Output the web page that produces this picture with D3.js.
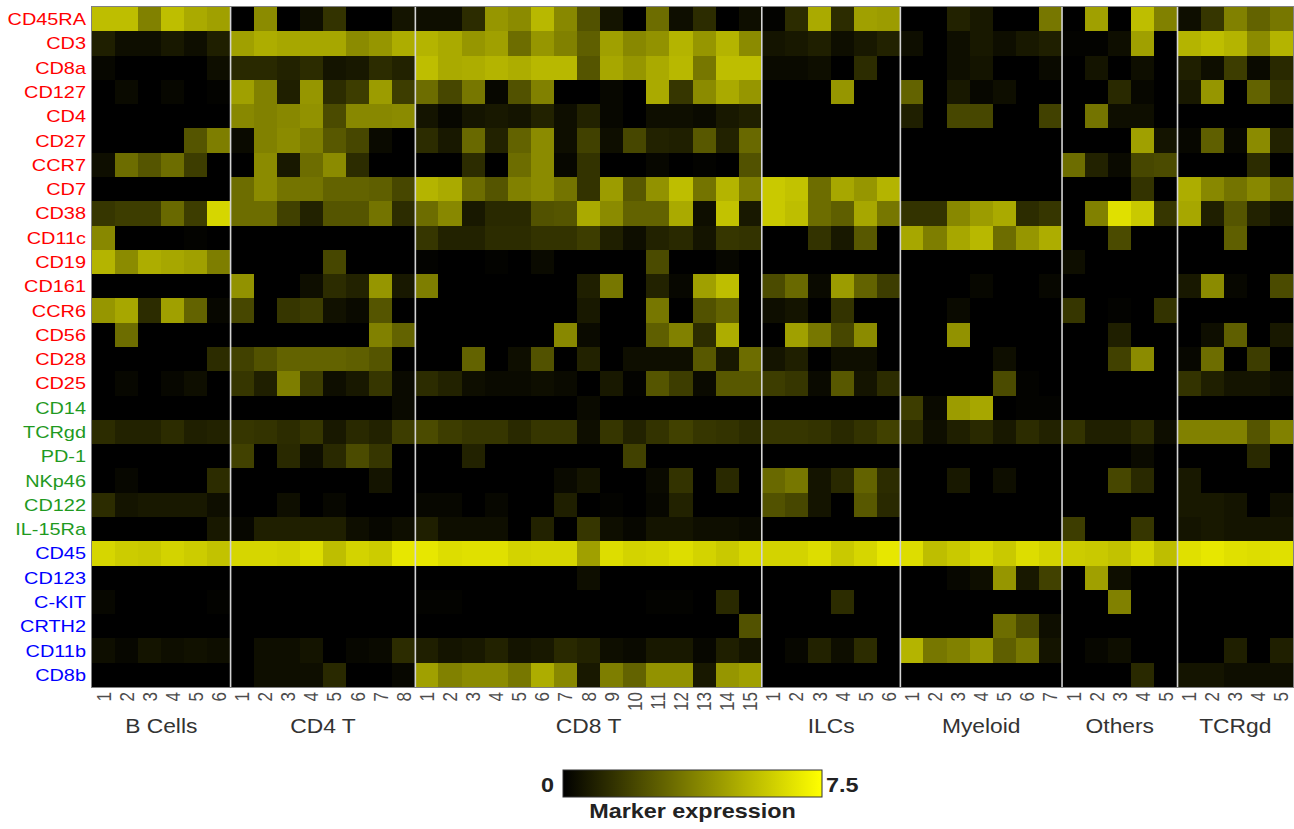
<!DOCTYPE html>
<html>
<head>
<meta charset="utf-8">
<script src="https://cdn.jsdelivr.net/npm/d3@7/dist/d3.min.js"></script>
<style>
  html, body { margin: 0; padding: 0; background: #ffffff; }
  svg { display: block; font-family: "Liberation Sans", Arial, sans-serif; }
</style>
</head>
<body>
<svg id="chart" width="1294" height="829"></svg>
<script>
// Markers (rows, top to bottom) and their panel class
const markers = ["CD45RA","CD3","CD8a","CD127","CD4","CD27","CCR7","CD7","CD38","CD11c","CD19","CD161","CCR6","CD56","CD28","CD25",
                 "CD14","TCRgd","PD-1","NKp46","CD122","IL-15Ra",
                 "CD45","CD123","C-KIT","CRTH2","CD11b","CD8b"];
const markerPanel = ["A","A","A","A","A","A","A","A","A","A","A","A","A","A","A","A",
                     "B","B","B","B","B","B",
                     "C","C","C","C","C","C"];
const panelColors = { A: "#ff0000", B: "#1f9a1f", C: "#0000ff" };

const groupNames = ["B Cells", "CD4 T", "CD8 T", "ILCs", "Myeloid", "Others", "TCRgd"];

// Mean marker expression per cluster: one row per marker, one column per cluster
const bCells = [
  [5.6,5.6,3.8,5.6,5.0,4.7],
  [0.9,0.4,0.4,0.7,0.4,0.9],
  [0.2,0,0,0,0,0.4],
  [0,0.3,0,0.2,0,0.1],
  [0,0,0,0,0,0],
  [0,0,0,0,2.5,3.7],
  [0.4,3.2,2.5,3.2,1.8,0],
  [0,0,0,0,0,0],
  [1.6,1.8,1.8,3.1,1.8,6.3],
  [4.0,0,0,0,0.1,0],
  [5.3,4.1,5.1,4.9,4.7,3.7],
  [0,0,0,0,0,0],
  [4.4,4.9,1.3,4.7,2.9,0.2],
  [0,3.2,0,0,0,0],
  [0,0,0,0,0,1.3],
  [0,0.2,0,0.2,0.4,0],
  [0,0,0,0,0,0],
  [1.3,1.0,1.0,1.3,0.9,1.0],
  [0,0,0,0,0,0],
  [0,0.2,0,0,0,1.3],
  [1.3,0.6,0.7,0.7,0.7,0.4],
  [0,0,0,0,0,0.7],
  [6.3,6.0,5.9,6.2,6.0,5.7],
  [0,0,0,0,0,0],
  [0.2,0,0,0,0,0.1],
  [0,0,0,0,0,0],
  [0.4,0.2,0.6,0.4,0.5,0.4],
  [0,0,0,0,0,0]
];

const cd4T = [
  [0,4.1,0,0.4,1.5,0,0,0.6],
  [4.7,5.1,4.9,4.9,4.9,4.1,4.4,5.1],
  [1.2,1.2,1.0,1.3,0.6,0.7,1.3,1.0],
  [4.7,3.8,0.9,4.4,1.3,1.8,4.6,1.8],
  [4.0,3.8,4.0,4.3,2.2,4.0,4.0,4.1],
  [0.3,3.8,4.1,3.7,2.6,2.1,0.3,0],
  [0,4.1,0.7,3.2,4.1,1.3,0,0],
  [3.2,4.1,3.4,3.4,2.9,2.9,2.8,2.1],
  [3.2,3.2,1.9,1.0,2.5,2.5,3.4,1.3],
  [0,0,0,0,0,0,0,0],
  [0,0,0,0,2.1,0,0,0],
  [4.3,0,0,0.4,1.3,1.0,4.4,0.7],
  [2.1,0,1.6,1.8,0.5,0.3,2.5,0],
  [0,0,0,0,0,0,3.8,2.9],
  [1.9,2.4,2.9,2.9,2.9,2.8,2.5,0],
  [1.6,0.9,3.7,1.8,0.4,0.7,1.6,0.3],
  [0,0,0,0,0,0,0,0.3],
  [1.6,1.5,1.3,1.6,0.7,1.2,1.0,1.8],
  [1.9,0,1.2,0.4,1.2,2.2,1.6,0],
  [0,0,0,0,0,0,0.6,0],
  [0,0,0.4,0,0.2,0,0,0],
  [0.2,0.9,0.9,0.9,0.9,0.4,0.2,0.4],
  [6.3,6.3,6.2,6.5,5.6,6.2,6.0,6.8],
  [0,0,0,0,0,0,0,0],
  [0,0,0,0,0,0,0,0],
  [0,0,0,0,0,0,0,0],
  [0,0.4,0.4,0.6,0,0.2,0.3,1.3],
  [0,0.4,0.4,0.4,1.2,0,0,0.2]
];

const cd8T = [
  [0.4,0.4,1.3,4.4,4.1,5.4,4.0,2.4,0.6,0,3.2,0.4,1.3,0,0.4],
  [5.3,5.0,4.4,4.7,3.2,4.4,3.8,2.8,4.7,4.0,4.3,5.3,4.4,5.3,4.1],
  [5.6,5.0,5.1,5.3,5.1,5.4,5.4,2.5,4.9,4.4,5.0,5.4,3.5,5.6,5.6],
  [3.2,2.1,3.5,0.2,2.4,3.8,0,0,0.2,0,5.0,1.6,4.1,5.0,4.4],
  [0.6,0.2,0.6,0.7,0.6,1.0,0.4,1.0,0.2,0,0.4,0.4,0.3,0.7,0.9],
  [1.3,0.7,3.1,1.0,2.9,4.1,0.4,1.9,0.4,2.1,1.0,0.9,2.6,1.0,3.1],
  [0,0,1.3,0,3.2,4.1,0.2,1.5,0,0,0.2,0,0.1,0,2.4],
  [5.3,5.0,3.2,2.5,3.8,4.1,3.4,1.5,4.6,2.6,4.3,5.6,3.4,5.3,3.7],
  [3.2,4.0,0.7,1.2,1.2,2.4,2.5,5.0,4.1,2.9,2.9,5.0,0.4,5.7,0.7],
  [1.6,1.0,1.0,1.3,1.3,1.5,1.5,1.8,0.9,0.4,1.0,1.2,0.6,1.6,1.5],
  [0.1,0,0,0.1,0,0.3,0,0,0,0,2.2,0,0,0.2,0],
  [3.7,0,0,0,0,0,0,0.9,3.5,0,1.0,0.2,4.7,5.6,0],
  [0,0,0,0,0,0,0,0.7,0,0,3.5,0,2.4,2.9,0],
  [0,0,0,0,0,0,4.0,0.3,0,0,2.8,3.8,1.3,5.1,0],
  [0,0,2.9,0,0.4,2.4,0,1.0,0,0.4,0.4,0.4,2.6,0.7,3.2],
  [1.3,1.0,0.4,0.3,0.3,0.4,0.3,0,0.7,0.1,2.5,1.8,0.3,2.6,2.6],
  [0,0,0,0,0,0,0,0.3,0,0,0,0,0,0,0],
  [2.2,1.8,1.6,1.6,1.2,1.6,1.6,0.4,1.6,1.0,1.5,1.9,1.6,1.5,1.3],
  [0,0,1.0,0,0,0,0,0,0,1.9,0,0,0,0,0],
  [0,0,0,0,0,0,0.3,0.6,0,0,0.3,1.5,0,1.2,0],
  [0.2,0.2,0,0.2,0,0,0.9,0,0.1,0,0.2,1.0,0,0,0],
  [0.9,0.4,0.4,0.4,0,1.0,0,1.6,0.4,0.2,0.6,0.6,0.4,0.4,0.3],
  [6.8,6.5,6.6,6.6,6.2,6.3,6.3,4.7,6.5,6.2,6.3,6.5,6.2,5.9,6.3],
  [0,0,0,0,0,0,0,0.4,0,0,0,0,0,0,0],
  [0.1,0.1,0,0,0,0,0,0,0,0,0.1,0.1,0,1.2,0],
  [0,0,0,0,0,0,0,0,0,0,0,0,0,0,2.4],
  [0.9,0.6,0.7,1.0,0.6,0.7,1.2,1.0,0.4,0.3,0.7,0.7,0.2,0.9,0.6],
  [4.7,3.8,4.1,4.1,3.5,5.1,4.0,0.7,3.7,2.9,4.3,4.3,0.7,4.4,4.7]
];

const ilcs = [
  [0.1,1.3,5.0,1.3,4.7,4.6],
  [0.6,0.7,0.9,0.4,0.7,1.0],
  [0.3,0.3,0.4,0,1.3,0],
  [0,0,0,4.4,0,0],
  [0,0,0,0,0,0],
  [0,0,0,0,0,0],
  [0,0,0,0,0,0],
  [5.9,5.7,3.2,4.9,4.4,5.3],
  [5.9,5.6,3.2,2.8,4.9,3.5],
  [0,0,1.5,0.7,2.6,0],
  [0,0,0,0,0,0],
  [2.2,3.1,0.3,4.6,2.9,1.8],
  [0.4,0.6,0,1.5,0,0],
  [0,4.7,3.5,2.1,4.1,0],
  [0.6,0.9,0,0.4,0.4,0],
  [1.8,1.6,0.3,2.6,0.6,1.3],
  [0,0,0,0,0,0],
  [1.6,1.6,1.5,1.2,1.5,1.9],
  [0,0,0,0,0,0],
  [3.1,3.5,0.6,1.2,2.9,1.3],
  [2.4,2.1,0.6,0,2.6,1.2],
  [0,0,0,0,0,0],
  [6.2,6.2,6.5,5.9,6.3,6.8],
  [0,0,0,0,0,0],
  [0,0,0,1.3,0,0],
  [0,0,0,0,0,0],
  [0,0.2,1.0,0.4,1.3,0],
  [0,0,0,0,0,0]
];

const myeloid = [
  [0,0,1.0,0.7,0,0,3.5],
  [0.4,0,0.4,0.7,0.4,0.7,0.9],
  [0,0,0.4,0.6,0,0,0.3],
  [2.9,0,0.7,0.2,0.4,0,0],
  [0.9,0,2.1,2.1,0,0,1.9],
  [0,0,0,0,0,0,0],
  [0,0,0,0,0,0,0],
  [0,0,0,0,0,0,0],
  [1.5,1.5,4.0,4.6,5.0,1.3,1.6],
  [4.9,3.7,4.9,5.4,3.2,4.4,5.1],
  [0,0,0,0,0,0,0],
  [0,0,0,0.2,0,0,0.2],
  [0,0,0.3,0,0,0,0],
  [0,0,4.3,0,0,0,0],
  [0,0,0,0,0.4,0,0],
  [0,0,0,0,2.2,0.1,0],
  [1.8,0.3,4.6,4.9,0,0.1,0.1],
  [1.2,0.4,0.9,1.2,0.7,1.3,1.0],
  [0,0,0,0,0,0,0],
  [0,0,0.7,0,0.4,0,0],
  [0,0,0,0,0,0,0],
  [0,0,0,0,0,0,0],
  [6.5,5.6,5.9,6.3,5.9,6.5,6.2],
  [0,0,0.2,0.4,4.4,0.7,1.9],
  [0,0,0,0,0,0,0],
  [0,0,0,0,3.2,2.2,0.4],
  [5.3,3.5,3.8,4.4,2.8,3.5,0.6],
  [0,0,0,0,0,0,0]
];

const others = [
  [0,4.7,0,5.6,3.8],
  [0.1,0.1,0.4,4.7,0],
  [0,0.6,0,0.4,0],
  [0,0,1.2,0.2,0],
  [0,3.4,0.4,0.4,0],
  [0,0,0,4.7,0.6],
  [3.2,1.0,0.3,2.1,2.2],
  [0,0,0,1.5,0],
  [0,3.8,6.6,5.9,1.6],
  [0,0,2.2,0,0],
  [0.4,0,0,0,0],
  [0,0,0,0,0],
  [1.6,0,0.1,0,1.5],
  [0,0,0.9,0,0],
  [0,0,1.9,4.1,0],
  [0,0,0,0,0],
  [0,0,0,0,0],
  [1.5,0.9,0.9,1.3,0.4],
  [0,0,0,0.3,0],
  [0,0,2.1,1.2,0],
  [0,0,0,0,0],
  [1.8,0,0,1.6,0],
  [6.0,5.9,5.7,6.3,5.6],
  [0,4.7,0.4,0,0],
  [0,0,3.8,0,0],
  [0,0,0,0,0],
  [0,0.2,0.4,0,0],
  [0,0,0,1.2,0]
];

const tcrgd = [
  [0.4,1.6,3.8,2.9,3.5],
  [5.3,5.6,5.3,4.1,5.3],
  [0.9,0.4,1.8,0.3,1.2],
  [0.7,4.4,0,2.9,1.5],
  [0,0,0,0,0],
  [0.2,2.8,0.2,4.1,1.0],
  [0,0,0,1.3,0],
  [5.1,4.0,3.4,4.0,3.1],
  [4.9,0.9,2.5,1.0,0.6],
  [0,0,2.8,0,0],
  [0,0,0,0,0],
  [0.7,4.1,0.2,0,2.2],
  [0,0,0,0,0],
  [0,0.4,2.8,0,0.7],
  [0.2,3.2,0,1.8,0],
  [1.5,0.9,0.6,0.6,0.4],
  [0,0,0,0,0],
  [3.8,3.8,3.8,2.5,3.8],
  [0,0,0,1.2,0],
  [0.7,0,0,0,0],
  [0.7,0.7,0.6,0,0.4],
  [0.6,0.7,0.6,0.6,0.6],
  [6.6,6.8,6.6,6.5,6.6],
  [0,0,0,0,0],
  [0,0,0,0,0],
  [0,0,0,0,0],
  [0,0,0.9,0,0.9],
  [0.6,0.6,0.4,0.4,0.4]
];

const groupValues = [bCells, cd4T, cd8T, ilcs, myeloid, others, tcrgd];
const colorDomain = [0, 7.5];
const colorRange = ["#000000", "#ffff00"];

// ---- layout ----
const svg = d3.select("#chart");
const plot = { left: 92, right: 1293, top: 7, bottom: 687 };
const stretch = 1.17;   // horizontal text stretch used throughout the figure

// one column key per cluster: "group|clusterNumber"
const columns = [];
groupNames.forEach((g, gi) => {
  const n = groupValues[gi][0].length;
  for (let c = 1; c <= n; c++) columns.push({ group: g, gi, cluster: c, key: g + "|" + c });
});

const x = d3.scaleBand().domain(columns.map(d => d.key)).range([plot.left, plot.right]).paddingInner(0).paddingOuter(0);
const y = d3.scaleBand().domain(markers).range([plot.top, plot.bottom]).paddingInner(0).paddingOuter(0);
const color = d3.scaleLinear().domain(colorDomain).range(colorRange).clamp(true);

const cells = [];
columns.forEach(col => {
  markers.forEach((m, mi) => {
    cells.push({ key: col.key, marker: m, value: groupValues[col.gi][mi][col.cluster - 1] });
  });
});

// heatmap tiles
svg.append("g").selectAll("rect")
  .data(cells)
  .join("rect")
  .attr("x", d => x(d.key))
  .attr("y", d => y(d.marker))
  .attr("width", x.bandwidth() + 0.6)
  .attr("height", y.bandwidth() + 0.6)
  .attr("fill", d => color(d.value))
  .attr("shape-rendering", "crispEdges");

// separators between cluster groups
const groupBounds = groupNames.map((g, gi) => {
  const cols = columns.filter(c => c.gi === gi);
  const x0 = x(cols[0].key);
  const x1 = x(cols[cols.length - 1].key) + x.bandwidth();
  return { g, x0, x1, cols };
});
svg.append("g").selectAll("line")
  .data(groupBounds.slice(1))
  .join("line")
  .attr("x1", d => d.x0).attr("x2", d => d.x0)
  .attr("y1", plot.top).attr("y2", plot.bottom)
  .attr("stroke", "#d4d4d4")
  .attr("stroke-width", 1.6);

// panel frame
svg.append("rect")
  .attr("x", plot.left - 0.5).attr("y", plot.top - 0.5)
  .attr("width", plot.right - plot.left + 1).attr("height", plot.bottom - plot.top + 1)
  .attr("fill", "none").attr("stroke", "#808080").attr("stroke-width", 1);

// marker labels
svg.append("g").selectAll("text")
  .data(markers)
  .join("text")
  .attr("transform", d => `translate(86,${y(d) + y.bandwidth() / 2}) scale(${stretch},1)`)
  .attr("text-anchor", "end")
  .attr("dominant-baseline", "central")
  .attr("font-size", 17)
  .attr("fill", (d, i) => panelColors[markerPanel[i]])
  .text(d => d);

// cluster numbers
svg.append("g").selectAll("text")
  .data(columns)
  .join("text")
  .attr("transform", d => `translate(${x(d.key) + x.bandwidth() / 2},692) scale(${stretch},1) rotate(-90)`)
  .attr("text-anchor", "end")
  .attr("dominant-baseline", "central")
  .attr("font-size", 17)
  .attr("fill", "#4d4d4d")
  .text(d => d.cluster);

// group labels
svg.append("g").selectAll("text")
  .data(groupBounds)
  .join("text")
  .attr("transform", d => `translate(${(d.x0 + d.x1) / 2},733) scale(${stretch},1)`)
  .attr("text-anchor", "middle")
  .attr("font-size", 19.5)
  .attr("fill", "#333333")
  .text(d => d.g);

// colour bar
const legend = { x0: 563, x1: 822, y0: 770, y1: 797 };
const grad = svg.append("defs").append("linearGradient").attr("id", "exprGrad")
  .attr("x1", "0%").attr("x2", "100%").attr("y1", "0%").attr("y2", "0%");
d3.range(0, 1.0001, 0.1).forEach(t => {
  grad.append("stop").attr("offset", (t * 100) + "%").attr("stop-color", color(colorDomain[0] + t * (colorDomain[1] - colorDomain[0])));
});
const lx = d3.scaleLinear().domain(colorDomain).range([legend.x0, legend.x1]);
svg.append("rect")
  .attr("x", lx(colorDomain[0])).attr("y", legend.y0)
  .attr("width", lx(colorDomain[1]) - lx(colorDomain[0])).attr("height", legend.y1 - legend.y0)
  .attr("fill", "url(#exprGrad)")
  .attr("stroke", "#333333").attr("stroke-width", 1);

const legendTicks = [colorDomain[0], colorDomain[1]];
svg.append("g").selectAll("text")
  .data(legendTicks)
  .join("text")
  .attr("transform", (d, i) => `translate(${i === 0 ? lx(d) - 9 : lx(d) + 4},792) scale(${stretch},1)`)
  .attr("text-anchor", (d, i) => i === 0 ? "end" : "start")
  .attr("font-size", 20)
  .attr("font-weight", "bold")
  .attr("fill", "#222222")
  .text(d => d);

svg.append("text")
  .attr("transform", `translate(${(legend.x0 + legend.x1) / 2},818) scale(${stretch},1)`)
  .attr("text-anchor", "middle")
  .attr("font-size", 20)
  .attr("font-weight", "bold")
  .attr("fill", "#222222")
  .text("Marker expression");
</script>
</body>
</html>
